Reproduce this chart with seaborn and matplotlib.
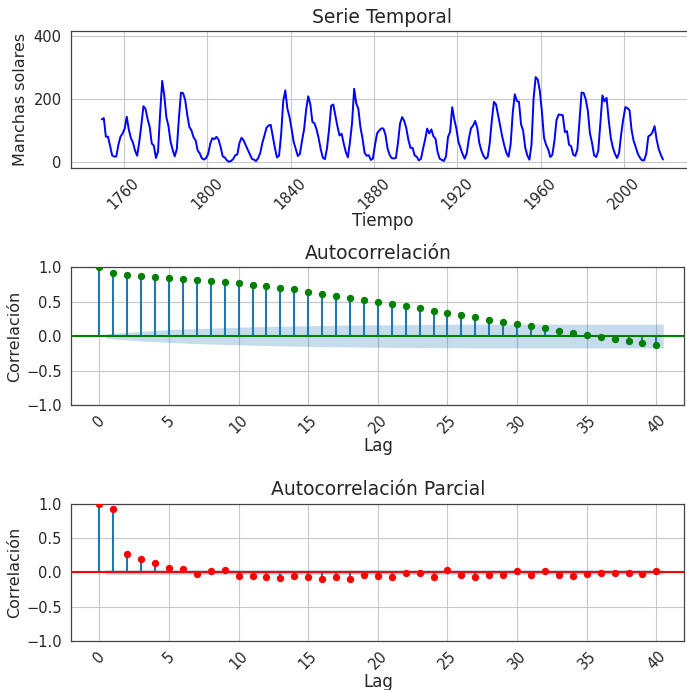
import numpy as np
import pandas as pd
import matplotlib
matplotlib.use('Agg')
import matplotlib.pyplot as plt
import seaborn as sns

# yearly sunspot numbers (approximate), 1749 - 2018
years = list(range(1749, 2019))
sunspots = [
    134.7, 139.0, 79.5, 79.7, 51.2, 20.3, 16.0, 17.0, 54.0, 79.3,
    90.0, 104.8, 143.2, 102.0, 75.2, 60.7, 34.8, 19.0, 63.0, 116.3,
    176.8, 168.0, 136.0, 110.8, 58.0, 51.0, 11.7, 33.0, 154.2, 257.3,
    209.8, 141.3, 113.5, 64.2, 38.0, 17.0, 40.2, 138.2, 220.0, 218.2,
    196.8, 149.8, 111.0, 100.0, 78.2, 68.3, 35.5, 26.7, 10.7, 6.8,
    11.3, 24.2, 56.7, 75.0, 71.8, 79.2, 70.3, 46.8, 16.8, 13.5,
    4.2, 0.0, 2.3, 8.3, 20.3, 23.2, 59.0, 76.3, 68.3, 52.9,
    38.5, 24.2, 9.2, 6.3, 2.2, 11.4, 28.2, 59.9, 83.0, 108.5,
    115.2, 117.4, 80.8, 44.3, 13.4, 19.5, 85.8, 192.7, 227.3, 168.7,
    143.0, 105.5, 63.3, 40.3, 18.1, 25.1, 65.8, 102.7, 166.3, 208.3,
    182.5, 126.3, 122.0, 102.7, 74.1, 39.0, 12.7, 8.2, 43.4, 104.4,
    178.3, 182.2, 146.6, 112.1, 83.5, 89.2, 57.8, 30.7, 13.9, 62.8,
    123.6, 232.0, 185.3, 169.2, 110.1, 74.5, 28.3, 18.9, 20.7, 5.7,
    10.0, 53.7, 90.5, 99.0, 106.1, 105.8, 86.3, 42.4, 21.8, 11.2,
    10.4, 11.8, 59.5, 121.7, 142.0, 130.0, 106.6, 69.4, 43.8, 44.4,
    20.2, 15.7, 4.6, 8.5, 40.8, 70.1, 105.5, 90.1, 102.8, 80.9,
    73.2, 30.9, 9.5, 6.0, 2.4, 16.1, 79.0, 95.0, 173.6, 134.6,
    105.7, 62.7, 43.5, 23.7, 9.7, 27.9, 74.0, 106.5, 114.7, 129.7,
    108.2, 59.4, 35.1, 18.6, 9.2, 14.6, 60.2, 132.8, 190.6, 182.6,
    148.0, 113.0, 79.2, 50.8, 27.1, 16.1, 55.3, 154.3, 214.7, 193.0,
    190.7, 118.9, 98.3, 45.0, 20.1, 6.6, 54.2, 200.7, 269.3, 261.7,
    225.1, 159.0, 76.4, 53.4, 39.9, 15.0, 22.0, 66.8, 132.9, 150.2,
    149.4, 148.0, 94.4, 97.6, 54.1, 49.2, 22.5, 18.4, 39.3, 131.0,
    220.1, 218.9, 198.9, 162.4, 91.0, 60.5, 20.6, 14.8, 33.9, 123.0,
    211.1, 191.8, 203.3, 133.0, 76.1, 44.9, 25.1, 11.6, 28.9, 88.3,
    136.3, 173.9, 170.4, 163.6, 99.3, 65.3, 45.8, 24.7, 12.6, 4.2,
    4.8, 24.9, 80.8, 84.5, 94.0, 113.3, 69.8, 39.8, 21.7, 7.0,
]

lags = list(range(0, 41))
acf_vals = [
    1.0, 0.92, 0.89, 0.87, 0.86, 0.845, 0.83, 0.815, 0.80, 0.785,
    0.765, 0.745, 0.72, 0.695, 0.675, 0.645, 0.615, 0.585, 0.555, 0.52,
    0.49, 0.46, 0.43, 0.40, 0.37, 0.34, 0.305, 0.27, 0.235, 0.20,
    0.17, 0.14, 0.11, 0.075, 0.045, 0.01, -0.02, -0.045, -0.075, -0.10,
    -0.13,
]
pacf_vals = [
    1.0, 0.92, 0.27, 0.19, 0.14, 0.065, 0.05, -0.02, 0.02, 0.03,
    -0.05, -0.06, -0.07, -0.08, -0.05, -0.07, -0.10, -0.07, -0.10, -0.04,
    -0.06, -0.065, -0.01, -0.005, -0.065, 0.04, -0.04, -0.07, -0.035, -0.04,
    0.015, -0.035, 0.015, -0.04, -0.05, -0.03, -0.015, -0.01, -0.005, -0.025,
    0.02,
]
n_obs = 3265  # monthly observations behind the correlograms

sns.set_style('white')
plt.rcParams['font.family'] = ['DejaVu Sans']

df = pd.DataFrame({'year': np.array(years) + 0.5, 'spots': sunspots})

fig = plt.figure(figsize=(6.87, 6.90), dpi=100)
ax1 = fig.add_axes([0.104, 0.757, 0.905, 0.198])
ax2 = fig.add_axes([0.104, 0.413, 0.892, 0.200])
ax3 = fig.add_axes([0.104, 0.071, 0.892, 0.199])

# serie temporal
sns.lineplot(data=df, x='year', y='spots', color='blue', lw=1.4, ax=ax1)
ax1.set_xlim(1735, 2033)
ax1.set_ylim(-19, 416)
ax1.set_yticks([0, 200, 400])
ax1.set_xticks([1760, 1800, 1840, 1880, 1920, 1960, 2000])
ax1.set_title('Serie Temporal', fontsize=13.5)
ax1.set_xlabel('Tiempo', fontsize=12, labelpad=0)
ax1.set_ylabel('Manchas solares', fontsize=11.5)


def corr_plot(ax, vals, color, title, band):
    lag_arr = np.array(lags, dtype=float)
    vals = np.array(vals)
    ax.vlines(lag_arr, 0, vals, color='C0', lw=1.5)
    ax.axhline(0, color=color, lw=1.5)
    bx = lag_arr[1:].copy()
    bx[0] -= 0.5
    bx[-1] += 0.5
    ax.fill_between(bx, -band, band, color='C0', alpha=0.25, lw=0)
    sns.scatterplot(x=lag_arr, y=vals, color=color, s=28, edgecolor=color,
                    linewidth=0, ax=ax, zorder=3)
    ax.set_xlim(-2, 42)
    ax.set_ylim(-1, 1)
    ax.set_xticks(range(0, 41, 5))
    ax.set_yticks([-1.0, -0.5, 0.0, 0.5, 1.0])
    ax.set_title(title, fontsize=13.5)
    ax.set_xlabel('Lag', fontsize=12, labelpad=0)
    ax.set_ylabel('Correlación', fontsize=11.5, labelpad=3)


# Bartlett band for the ACF, constant band for the PACF
r2 = np.cumsum(np.array(acf_vals[1:-1]) ** 2)
acf_band = 1.96 / np.sqrt(n_obs) * np.sqrt(1 + 2 * np.concatenate([[0], r2]))
pacf_band = np.full(40, 1.96 / np.sqrt(n_obs))

corr_plot(ax2, acf_vals, 'green', 'Autocorrelación', acf_band)
corr_plot(ax3, pacf_vals, 'red', 'Autocorrelación Parcial', pacf_band)

for ax in (ax1, ax2, ax3):
    ax.grid(True, color='#c8c8c8', lw=0.8)
    ax.tick_params(axis='both', labelsize=10.5, length=3.5, width=0.8)
    ax.tick_params(axis='x', labelrotation=45, pad=2)
    for s in ax.spines.values():
        s.set_color('#444444')
        s.set_linewidth(0.9)

fig.savefig('out.png', dpi=100)
